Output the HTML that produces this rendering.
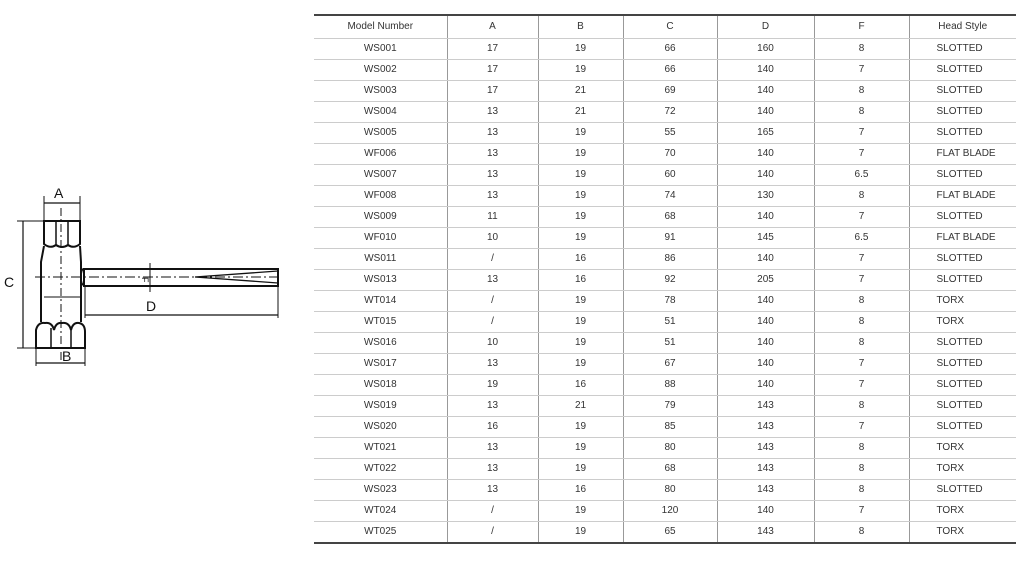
<!DOCTYPE html>
<html><head><meta charset="utf-8"><style>
body{margin:0;width:1024px;height:567px;background:#fff;position:relative;overflow:hidden;font-family:"Liberation Sans",Arial,sans-serif;}
table{position:absolute;left:314px;top:14px;width:702px;border-collapse:collapse;border-top:2px solid #444;border-bottom:2px solid #444;font-size:10px;color:#333;}
td{text-align:center;height:20px;padding:0;border-bottom:1px solid #ccc;border-left:1px solid #999;line-height:20px;}
tr:first-child td{height:22px;}
tr:last-child td{border-bottom:none;}
td:first-child{border-left:none;}
td:last-child{text-align:left;padding-left:27px;}
tr:first-child td:last-child{text-align:center;padding-left:0;}
</style></head><body>
<svg style="position:absolute;left:0;top:0" width="300" height="400" font-family="Liberation Sans,Arial,sans-serif" font-size="14" fill="none" stroke="#111">
<line x1="44" y1="203" x2="80" y2="203" stroke-width="1.2"/>
<line x1="44" y1="196" x2="44" y2="221"/><line x1="80" y1="196" x2="80" y2="221"/>
<text x="54" y="198" fill="#111" stroke="none">A</text>
<path d="M44 221 H80 V244 Q74 249 68 245 Q62 249 56 245 Q50 249 44 244 Z" stroke-width="2"/>
<line x1="56" y1="221" x2="56" y2="245" stroke-width="1.5"/><line x1="68" y1="221" x2="68" y2="245" stroke-width="1.5"/>
<path d="M44 246 L41 262 V322 M80 246 L81 262 V322" stroke-width="2"/>
<line x1="44" y1="297" x2="80" y2="297" stroke-width="1"/>
<path d="M36 348 V330 Q38 322 45 323 Q52 322 54 330 Q56 322 62 323 Q69 322 71 330 Q73 322 79 323 Q85 324 85 332 V348 Z" stroke-width="2"/>
<line x1="51" y1="328" x2="51" y2="348" stroke-width="1.5"/><line x1="71" y1="330" x2="71" y2="348" stroke-width="1.5"/>
<line x1="61" y1="208" x2="61" y2="360" stroke-dasharray="8,3,2,3" stroke-width="1"/>
<line x1="35" y1="277" x2="282" y2="277" stroke-dasharray="10,3,2,3" stroke-width="1"/>
<line x1="17" y1="221" x2="44" y2="221" stroke-width="1"/><line x1="17" y1="348" x2="36" y2="348" stroke-width="1"/>
<line x1="23" y1="221" x2="23" y2="348" stroke-width="1.2"/>
<text x="4" y="287" fill="#111" stroke="none">C</text>
<path d="M81 268 Q84 270 84 277 Q84 284 81 286" stroke-width="1.5"/>
<rect x="84" y="269" width="194" height="17" stroke-width="2"/>
<path d="M278 271 L195 277 L278 283" stroke-width="1.3"/>
<line x1="150" y1="263" x2="150" y2="292" stroke-width="1"/>
<text x="146" y="281" font-size="9" fill="#111" stroke="none" transform="rotate(90 146 277)">F</text>
<line x1="85" y1="286" x2="85" y2="318" stroke-width="1"/><line x1="278" y1="286" x2="278" y2="318" stroke-width="1"/>
<line x1="85" y1="315" x2="278" y2="315" stroke-width="1.2"/>
<text x="146" y="311" fill="#111" stroke="none">D</text>
<line x1="36" y1="348" x2="36" y2="366" stroke-width="1"/><line x1="85" y1="348" x2="85" y2="366" stroke-width="1"/>
<line x1="36" y1="363" x2="85" y2="363" stroke-width="1.2"/>
<text x="62" y="361" fill="#111" stroke="none">B</text>
</svg>
<table>
<colgroup><col style="width:133px"><col style="width:91px"><col style="width:85px"><col style="width:94px"><col style="width:97px"><col style="width:95px"><col style="width:107px"></colgroup>
<tr><td>Model Number</td><td>A</td><td>B</td><td>C</td><td>D</td><td>F</td><td>Head Style</td></tr>
<tr><td>WS001</td><td>17</td><td>19</td><td>66</td><td>160</td><td>8</td><td>SLOTTED</td></tr>
<tr><td>WS002</td><td>17</td><td>19</td><td>66</td><td>140</td><td>7</td><td>SLOTTED</td></tr>
<tr><td>WS003</td><td>17</td><td>21</td><td>69</td><td>140</td><td>8</td><td>SLOTTED</td></tr>
<tr><td>WS004</td><td>13</td><td>21</td><td>72</td><td>140</td><td>8</td><td>SLOTTED</td></tr>
<tr><td>WS005</td><td>13</td><td>19</td><td>55</td><td>165</td><td>7</td><td>SLOTTED</td></tr>
<tr><td>WF006</td><td>13</td><td>19</td><td>70</td><td>140</td><td>7</td><td>FLAT BLADE</td></tr>
<tr><td>WS007</td><td>13</td><td>19</td><td>60</td><td>140</td><td>6.5</td><td>SLOTTED</td></tr>
<tr><td>WF008</td><td>13</td><td>19</td><td>74</td><td>130</td><td>8</td><td>FLAT BLADE</td></tr>
<tr><td>WS009</td><td>11</td><td>19</td><td>68</td><td>140</td><td>7</td><td>SLOTTED</td></tr>
<tr><td>WF010</td><td>10</td><td>19</td><td>91</td><td>145</td><td>6.5</td><td>FLAT BLADE</td></tr>
<tr><td>WS011</td><td>/</td><td>16</td><td>86</td><td>140</td><td>7</td><td>SLOTTED</td></tr>
<tr><td>WS013</td><td>13</td><td>16</td><td>92</td><td>205</td><td>7</td><td>SLOTTED</td></tr>
<tr><td>WT014</td><td>/</td><td>19</td><td>78</td><td>140</td><td>8</td><td>TORX</td></tr>
<tr><td>WT015</td><td>/</td><td>19</td><td>51</td><td>140</td><td>8</td><td>TORX</td></tr>
<tr><td>WS016</td><td>10</td><td>19</td><td>51</td><td>140</td><td>8</td><td>SLOTTED</td></tr>
<tr><td>WS017</td><td>13</td><td>19</td><td>67</td><td>140</td><td>7</td><td>SLOTTED</td></tr>
<tr><td>WS018</td><td>19</td><td>16</td><td>88</td><td>140</td><td>7</td><td>SLOTTED</td></tr>
<tr><td>WS019</td><td>13</td><td>21</td><td>79</td><td>143</td><td>8</td><td>SLOTTED</td></tr>
<tr><td>WS020</td><td>16</td><td>19</td><td>85</td><td>143</td><td>7</td><td>SLOTTED</td></tr>
<tr><td>WT021</td><td>13</td><td>19</td><td>80</td><td>143</td><td>8</td><td>TORX</td></tr>
<tr><td>WT022</td><td>13</td><td>19</td><td>68</td><td>143</td><td>8</td><td>TORX</td></tr>
<tr><td>WS023</td><td>13</td><td>16</td><td>80</td><td>143</td><td>8</td><td>SLOTTED</td></tr>
<tr><td>WT024</td><td>/</td><td>19</td><td>120</td><td>140</td><td>7</td><td>TORX</td></tr>
<tr><td>WT025</td><td>/</td><td>19</td><td>65</td><td>143</td><td>8</td><td>TORX</td></tr>
</table>
</body></html>
